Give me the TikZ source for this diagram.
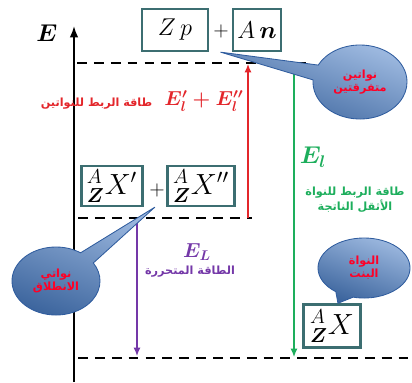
\documentclass[tikz,border=0pt]{standalone}
\usepackage{fontspec}
\usepackage{amsmath}
\usetikzlibrary{arrows.meta,shapes.callouts,calc}
\TeXXeTstate=1
\newfontfamily\arabicfont[Script=Arabic]{DejaVu Sans}
\definecolor{boxteal}{HTML}{3C6E71}
\definecolor{bindred}{HTML}{E3262B}
\definecolor{bindgreen}{HTML}{1DAE5C}
\definecolor{freedpurple}{HTML}{7438A8}
\definecolor{bubbleblue}{HTML}{4A7DC4}
\definecolor{bubbleedge}{HTML}{2F5C9E}
\colorlet{bubbletext}{red!85!magenta}

\begin{document}
\begin{tikzpicture}[x=0.025cm, y=-0.025cm,
  nucbox/.style={draw=boxteal, line width=1.6pt, fill=white, inner sep=2pt,
                 minimum height=1.05cm, font=\Large},
  level/.style={line width=1.8pt, dash pattern=on 7pt off 5pt},
  gap/.style={line width=0.9pt, -{Latex[length=6pt,width=5pt]}},
  bubble/.style={ellipse callout, draw=bubbleedge, line width=0.6pt,
                 top color=bubbleblue!55, bottom color=bubbleblue!80!black,
                 shading angle=-20,
                 callout pointer arc=24, align=center, inner sep=1pt,
                 text=bubbletext, font=\arabicfont\bfseries\footnotesize},
  arlabel/.style={align=center, inner sep=1pt,
                  font=\arabicfont\bfseries\footnotesize}]
  \useasboundingbox (0,0) rectangle (412,382);

  % energy axis, pointing up; the three levels hang off it as dashed lines
  \coordinate (axbot) at (74,382);
  \coordinate (axtop) at (74,26);
  \draw[line width=1.2pt, -{Latex[length=8pt,width=6pt]}] (axbot) -- (axtop);
  \node[font=\LARGE] (elabel) at (47,33) {$\boldsymbol{E}$};

  \coordinate (topl) at (77,63);   \coordinate (topr) at (312,63);
  \coordinate (midl) at (78,218);  \coordinate (midr) at (252,218);
  \coordinate (botl) at (78,358);  \coordinate (botr) at (412,358);
  \draw[level] (topl) -- (topr);
  \draw[level] (midl) -- (midr);
  \draw[level] (botl) -- (botr);

  % free nucleons on the top level
  \node[nucbox, minimum width=1.65cm, font=\LARGE] (zp) at (175,30) {$Z\,p$};
  \node[font=\Large] (plusa) at (221,31) {$+$};
  \node[nucbox, minimum width=1.2cm, font=\LARGE] (an) at (257,30)
    {$A\,\boldsymbol{n}$};

  % the two start nuclei on the middle level
  \node[nucbox, minimum width=1.52cm, minimum height=1.0cm, font=\huge]
    (xa) at (112,186) {${}^{A}_{\boldsymbol{Z}}X'$};
  \node[font=\Large] (plusb) at (157,190) {$+$};
  \node[nucbox, minimum width=1.68cm, minimum height=1.0cm, font=\huge]
    (xb) at (201,186) {${}^{A}_{\boldsymbol{Z}}X''$};

  % the daughter nucleus just above the bottom level
  \node[nucbox, minimum width=1.43cm, minimum height=1.08cm, font=\huge]
    (xd) at (332,326) {${}^{A}_{\boldsymbol{Z}}X$};

  % energy gaps between the levels
  \coordinate (redlo) at (248,218);  \coordinate (redhi) at (248,64);
  \coordinate (grnhi) at (294,63);   \coordinate (grnlo) at (294,357);
  \coordinate (purhi) at (137,219);  \coordinate (purlo) at (137,356);
  \draw[gap, bindred] (redlo) -- (redhi);
  \draw[gap, bindgreen] (grnhi) -- (grnlo);
  \draw[gap, freedpurple] (purhi) -- (purlo);

  \node[text=bindred, font=\Large] (esum) at (204,101)
    {$\boldsymbol{E_l'+E_l''}$};
  \node[arlabel, text=bindred, anchor=east] (esumtxt) at (154,104)
    {\beginR طاقة الربط للنواتين\endR};

  \node[text=bindgreen, font=\LARGE] (eheavy) at (313,157)
    {$\boldsymbol{E_l}$};
  \node[arlabel, text=bindgreen] (eheavytxt) at (355,200)
    {\beginR طاقة الربط للنواة\endR\\ \beginR الأثقل الناتجة\endR};

  \node[text=freedpurple, font=\Large] (efree) at (197,252)
    {$\boldsymbol{E_L}$};
  \node[arlabel, text=freedpurple] (efreetxt) at (190,272)
    {\beginR الطاقة المتحررة\endR};

  % speech bubbles naming the three states
  \node[bubble, minimum width=2.35cm, minimum height=1.85cm,
        callout absolute pointer={($(zp.south east)!0.5!(an.south west)$)}]
    (freebub) at (360,82) {\beginR نواتين\endR\\ \beginR متفرقتين\endR};
  \node[bubble, minimum width=2.2cm, minimum height=1.7cm,
        callout absolute pointer={($(xa.south east)!0.5!(xb.south west)$)}]
    (startbub) at (56,281) {\beginR نواتي\endR\\ \beginR الانطلاق\endR};
  \node[bubble, minimum width=2.3cm, minimum height=1.5cm,
        callout absolute pointer={($(xd.north)!0.2!(xd.north east)$)}]
    (daughterbub) at (364,268) {\beginR النواة\endR\\ \beginR البنت\endR};
\end{tikzpicture}
\end{document}
